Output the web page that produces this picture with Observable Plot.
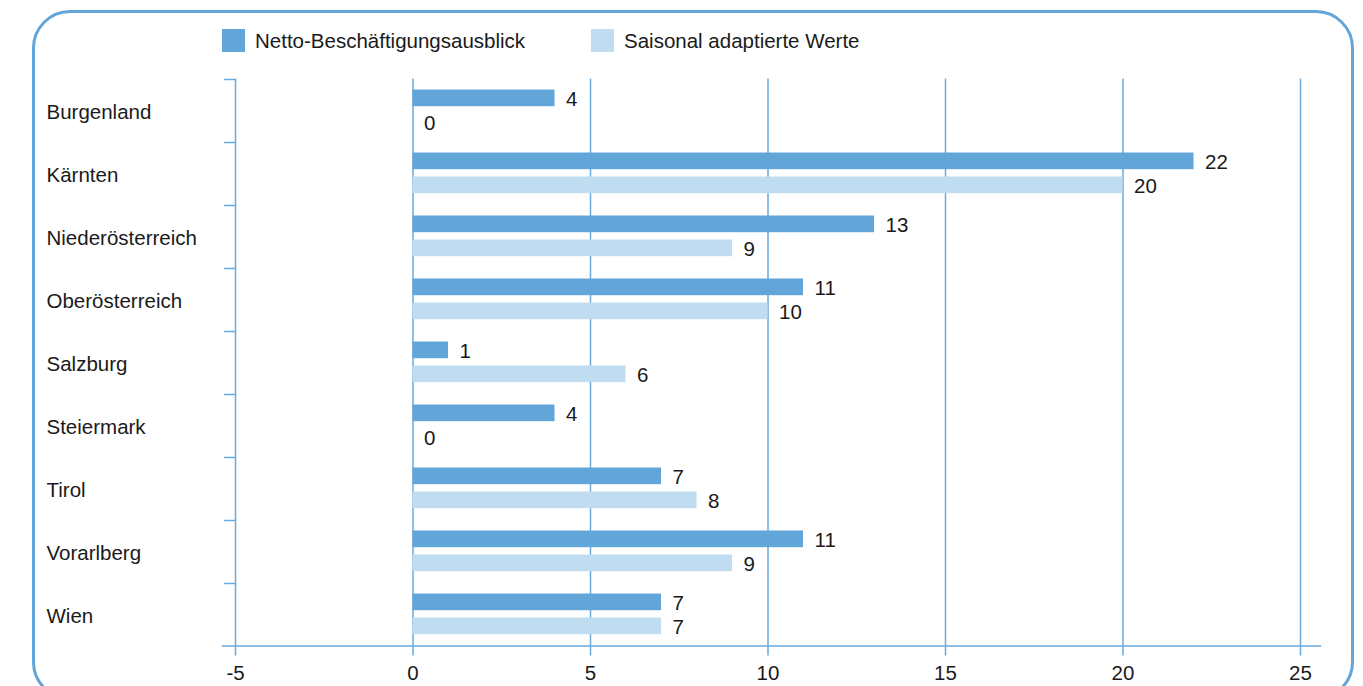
<!DOCTYPE html>
<html>
<head>
<meta charset="utf-8">
<script src="https://cdn.jsdelivr.net/npm/d3@7"></script>
<script src="https://cdn.jsdelivr.net/npm/@observablehq/plot@0.6"></script>
<style>
html, body { margin: 0; padding: 0; background: #fff; }
#wrap { position: relative; width: 1363px; height: 686px; overflow: hidden; font-family: "Liberation Sans", Arial, sans-serif; color: #1a1a1a; }
#box { position: absolute; left: 32px; top: 10px; width: 1322px; height: 690px; box-sizing: border-box; border: 3.5px solid #62a5d9; border-radius: 38px; }
#chart { position: absolute; left: 0; top: 0; }
.item { position: absolute; top: 29px; height: 23px; display: flex; align-items: center; font-size: 20.5px; white-space: nowrap; }
.sw { width: 23px; height: 23px; margin-right: 10px; flex: none; }
</style>
</head>
<body>
<div id="wrap">
  <div id="box"></div>
  <div id="chart"></div>
  <div id="legend"></div>
</div>
<script>
const regions = ["Burgenland", "Kärnten", "Niederösterreich", "Oberösterreich", "Salzburg", "Steiermark", "Tirol", "Vorarlberg", "Wien"];
const netto = [4, 22, 13, 11, 1, 4, 7, 11, 7];
const saisonal = [0, 20, 9, 10, 6, 0, 8, 9, 7];
const xTicks = [-5, 0, 5, 10, 15, 20, 25];
const seriesNames = ["Netto-Beschäftigungsausblick", "Saisonal adaptierte Werte"];

const darkColor = "#62a5d9";
const lightColor = "#c0dcf0";
const lineColor = "#6aa9dc";
const textColor = "#1a1a1a";
const fontFamily = "'Liberation Sans', Arial, sans-serif";

const rowsN = regions.map((r, i) => ({region: r, series: seriesNames[0], value: netto[i]}));
const rowsS = regions.map((r, i) => ({region: r, series: seriesNames[1], value: saisonal[i]}));

const chart = Plot.plot({
  width: 1363,
  height: 686,
  marginLeft: 222,
  marginRight: 43,
  marginTop: 78.5,
  marginBottom: 40.5,
  style: {fontFamily, fontSize: "20.5px", color: textColor, background: "transparent", overflow: "visible"},
  x: {domain: [-5.366, 25.563], label: null},
  y: {domain: regions, padding: 0, label: null},
  marks: [
    Plot.gridX(xTicks, {stroke: lineColor, strokeOpacity: 1, strokeWidth: 1.5}),
    Plot.axisX(xTicks, {tickSize: 10, tickPadding: 9, tickFormat: d => String(d), stroke: lineColor, strokeWidth: 1.5, fill: textColor, fontSize: 20.5, label: null}),
    Plot.frame({anchor: "bottom", stroke: lineColor, strokeWidth: 1.5}),
    Plot.axisY(regions, {tickSize: 11, fill: "none", dx: 13, dy: -31.5, stroke: lineColor, strokeWidth: 1.5, label: null}),
    Plot.text(regions, {y: d => d, text: d => d, frameAnchor: "left", textAnchor: "start", dx: -176, dy: 1, fontSize: 20.5, fill: textColor}),
    Plot.barX(rowsN, {x: "value", y: "region", fill: darkColor, insetTop: 10.5, insetBottom: 35.8}),
    Plot.barX(rowsS, {x: "value", y: "region", fill: lightColor, insetTop: 34.5, insetBottom: 11.8}),
    Plot.text(rowsN, {x: "value", y: "region", text: d => String(d.value), dx: 11, dy: -12, textAnchor: "start", fontSize: 20.5, fill: textColor}),
    Plot.text(rowsS, {x: "value", y: "region", text: d => String(d.value), dx: 11, dy: 12, textAnchor: "start", fontSize: 20.5, fill: textColor})
  ]
});
document.getElementById("chart").appendChild(chart);

const legend = document.getElementById("legend");
const legendColors = [darkColor, lightColor];
const legendLefts = [222, 591];
seriesNames.forEach((name, i) => {
  const item = document.createElement("div");
  item.className = "item";
  item.style.left = legendLefts[i] + "px";
  const sw = document.createElement("span");
  sw.className = "sw";
  sw.style.background = legendColors[i];
  const label = document.createElement("span");
  label.textContent = name;
  item.appendChild(sw);
  item.appendChild(label);
  legend.appendChild(item);
});
</script>
</body>
</html>
